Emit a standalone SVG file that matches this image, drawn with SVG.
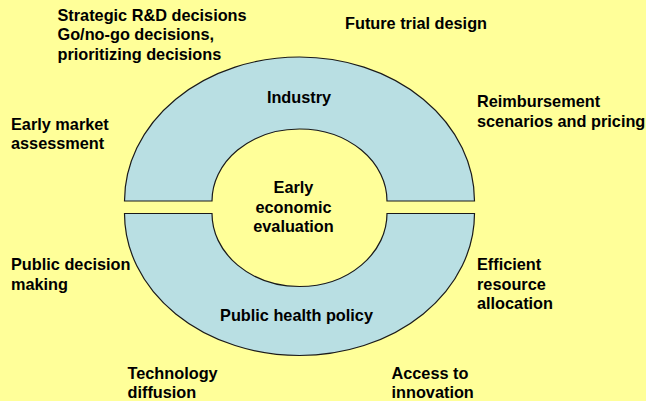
<svg xmlns="http://www.w3.org/2000/svg" width="646" height="401" viewBox="0 0 646 401">
  <style>
    .ring { fill: #B9DFE3; stroke: #1a1a1a; stroke-width: 1.2; }
    .t { font-family: "Liberation Sans", Arial, sans-serif; font-size: 16.3px; font-weight: bold; fill: #000; }
    .c { text-anchor: middle; }
  </style>
  <rect x="0" y="0" width="646" height="401" fill="#FFFF99"/>

  <!-- Upper half of the ring -->
  <g id="industry">
    <path class="ring" d="M 124.5,201 A 175,144 0 0 1 474.5,201 L 387,201 A 87.5,72 0 0 0 212,201 Z"/>
    <text class="t c" x="299" y="103">Industry</text>
  </g>

  <!-- Lower half of the ring -->
  <g id="public-health-policy">
    <path class="ring" d="M 124.5,213.5 A 175,142 0 0 0 474.5,213.5 L 387,213.5 A 87.5,73 0 0 1 212,213.5 Z"/>
    <text class="t c" x="296.5" y="320.5">Public health policy</text>
  </g>

  <!-- Centre -->
  <g id="early-economic-evaluation">
    <text class="t c" x="293.5" y="193">Early</text>
    <text class="t c" x="293.5" y="212.5">economic</text>
    <text class="t c" x="293.5" y="232">evaluation</text>
  </g>

  <!-- Surrounding labels -->
  <g id="strategic-decisions">
    <text class="t" x="57.5" y="21">Strategic R&amp;D decisions</text>
    <text class="t" x="57.5" y="40">Go/no-go decisions,</text>
    <text class="t" x="57.5" y="59.5">prioritizing decisions</text>
  </g>
  <g id="future-trial-design">
    <text class="t" x="345" y="28.5">Future trial design</text>
  </g>
  <g id="early-market-assessment">
    <text class="t" x="11" y="129.5">Early market</text>
    <text class="t" x="11" y="148.5">assessment</text>
  </g>
  <g id="reimbursement">
    <text class="t" x="477" y="107">Reimbursement</text>
    <text class="t" x="477" y="126.5">scenarios and pricing</text>
  </g>
  <g id="public-decision-making">
    <text class="t" x="11" y="270">Public decision</text>
    <text class="t" x="11" y="289.5">making</text>
  </g>
  <g id="efficient-resource-allocation">
    <text class="t" x="477" y="269.5">Efficient</text>
    <text class="t" x="477" y="289.5">resource</text>
    <text class="t" x="477" y="309">allocation</text>
  </g>
  <g id="technology-diffusion">
    <text class="t" x="127.5" y="379">Technology</text>
    <text class="t" x="127.5" y="398">diffusion</text>
  </g>
  <g id="access-to-innovation">
    <text class="t" x="391.5" y="378.5">Access to</text>
    <text class="t" x="391.5" y="397.5">innovation</text>
  </g>

  <g id="connectors"></g>
</svg>
